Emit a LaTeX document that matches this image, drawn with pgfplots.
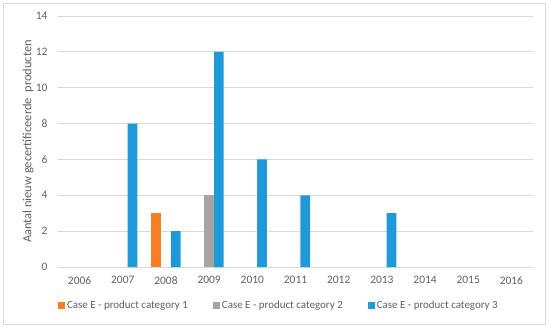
\documentclass[border=0pt]{standalone}
\usepackage{pgfplots}
\pgfplotsset{compat=1.18}
\usepackage{fontspec}
\setmainfont{Carlito}
\definecolor{c1}{RGB}{246,127,38}
\definecolor{c2}{RGB}{165,165,165}
\definecolor{c3}{RGB}{31,153,215}
\definecolor{txt}{RGB}{95,95,95}
\definecolor{grd}{RGB}{217,217,217}
\begin{document}
\begin{tikzpicture}[x=1bp,y=1bp]
\useasboundingbox (0,0) rectangle (550,327);
\draw[grd,line width=0.8bp] (3,3) rectangle (545,324);
\begin{axis}[
  at={(58bp,60bp)}, anchor=south west,
  scale only axis, width=475bp, height=251bp,
  xmin=-0.5, xmax=10.5, ymin=0, ymax=14,
  ytick={0,2,...,14},
  xtick={0,...,10},
  xticklabels={2006,2007,2008,2009,2010,2011,2012,2013,2014,2015,2016},
  ybar, bar width=0.225,
  axis line style={draw=none},
  major tick length=0pt,
  ymajorgrids, major grid style={draw=grd, line width=0.8bp},
  tick label style={font=\fontsize{11.5}{14}\selectfont, text=txt},
  /pgf/number format/assume math mode=true,
  xticklabel style={yshift=-6bp},
  yticklabel style={xshift=-7bp},
  ylabel={Aantal nieuw gecertificeerde\ \ producten},
  ylabel style={font=\fontsize{12.5}{14}\selectfont, text=txt, at={(axis description cs:-0.063,0.5)}, anchor=center},
  legend style={at={(axis description cs:0.465,-0.155)}, anchor=center, draw=none, fill=none,
    legend columns=3, font=\fontsize{11}{14}\selectfont, text=txt,
    nodes={inner xsep=2bp},
    /tikz/every even column/.append style={column sep=23bp}},
  legend image code/.code={\fill[#1] (0bp,-3.5bp) rectangle (7bp,3.5bp);},
]
\draw[grd, line width=0.8bp] (axis cs:-0.5,0) -- (axis cs:10.5,0);
\addplot[fill=c1, draw=none, bar shift=-0.225] coordinates {(2,3)};
\addplot[fill=c2, draw=none, bar shift=0] coordinates {(3,4)};
\addplot[fill=c3, draw=none, bar shift=0.225] coordinates {(1,8) (2,2) (3,12) (4,6) (5,4) (7,3)};
\legend{Case E - product category 1, Case E - product category 2, Case E - product category 3}
\end{axis}
\end{tikzpicture}
\end{document}
